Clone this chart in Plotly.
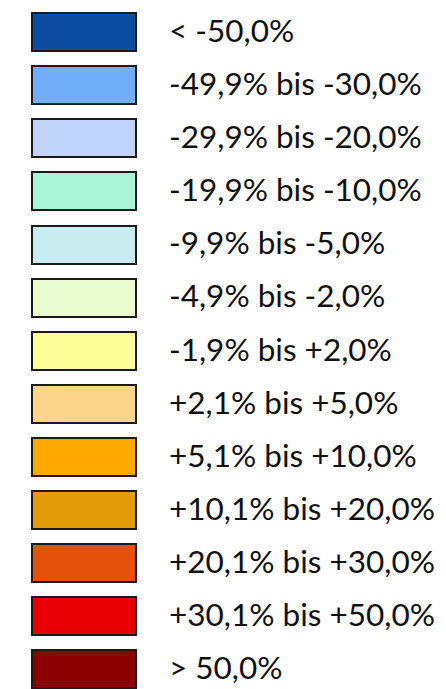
import plotly.graph_objects as go

labels = [
    "< -50,0%",
    "-49,9% bis -30,0%",
    "-29,9% bis -20,0%",
    "-19,9% bis -10,0%",
    "-9,9% bis -5,0%",
    "-4,9% bis -2,0%",
    "-1,9% bis +2,0%",
    "+2,1% bis +5,0%",
    "+5,1% bis +10,0%",
    "+10,1% bis +20,0%",
    "+20,1% bis +30,0%",
    "+30,1% bis +50,0%",
    "> 50,0%",
]
colors = [
    "#0D4DA1", "#70AEFA", "#C0D3FB", "#A8F5D8", "#C9ECF1", "#EBFCD0",
    "#FFFF99", "#FDD58A", "#FFA900", "#E49B0A", "#E5500B", "#E60004", "#8B0000",
]
rows = list(range(len(labels)))

OFF = 8  # default page body margin
W, H = 446 - OFF, 689 - OFF
box_left, box_w = 32 - OFF, 104
text_x = 170 - OFF - 1
top_c, pitch = 32.2 - OFF, 53.08
text_dy = 2 / pitch  # labels sit slightly below box centres

fig = go.Figure()
fig.add_trace(go.Bar(
    y=rows, x=[box_w] * len(rows), base=[box_left] * len(rows),
    orientation="h", width=0.716,
    marker=dict(color=colors, line=dict(color="#1a1a1a", width=2)),
    hoverinfo="skip", showlegend=False,
))
fig.add_trace(go.Scatter(
    y=[r + text_dy for r in rows], x=[text_x] * len(rows), mode="text", text=labels,
    textposition="middle right",
    textfont=dict(family="Lato", size=31.5, color="#111111"),
    hoverinfo="skip", showlegend=False,
))
fig.update_layout(
    width=W, height=H, margin=dict(l=0, r=0, t=0, b=0),
    paper_bgcolor="white", plot_bgcolor="white",
    xaxis=dict(range=[0, W], visible=False, fixedrange=True),
    yaxis=dict(range=[(H - top_c) / pitch, -top_c / pitch], visible=False, fixedrange=True),
    bargap=0,
)
fig.write_html("out.html")
